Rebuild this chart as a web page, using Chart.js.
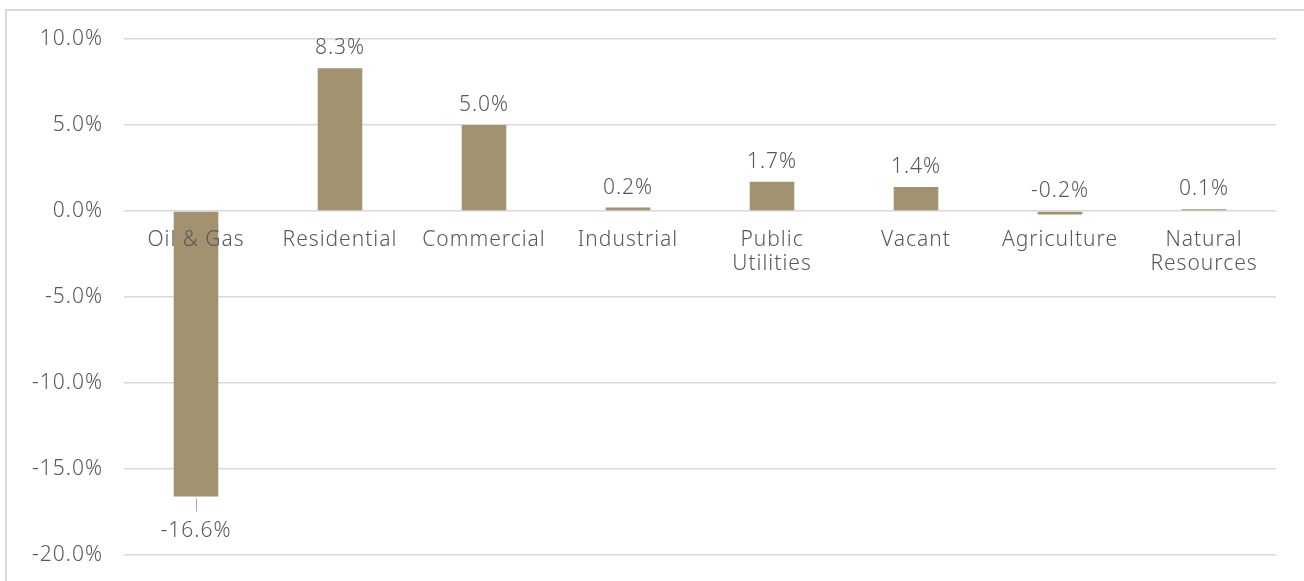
<!doctype html>
<html>

<head>
    <title>Change by Property Class</title>
    <script src="https://cdn.jsdelivr.net/npm/chart.js@4/dist/chart.umd.min.js"></script>
    <style>
    html, body {
        margin: 0;
        padding: 0;
        background: #ffffff;
    }
    #wrap {
        width: 1304px;
        height: 581px;
    }
    </style>
</head>

<body>
    <div id="wrap">
        <canvas id="canvas"></canvas>
    </div>
    <script>
    var categories = ['Oil & Gas', 'Residential', 'Commercial', 'Industrial', ['Public', 'Utilities'], 'Vacant', 'Agriculture', ['Natural', 'Resources']];
    var changePct = [-16.6, 8.3, 5.0, 0.2, 1.7, 1.4, -0.2, 0.1];
    var yTicks = [-20, -15, -10, -5, 0, 5, 10];

    var textColor = '#595959';
    var gridColor = '#d9d9d9';
    var barColor = '#a2926f';
    var fontFamily = '"Noto Sans", sans-serif';

    // outer frame of the chart box (only top and left edges fall inside the canvas)
    // also widens letter spacing for every text drawn afterwards
    var frame = {
        id: 'frame',
        beforeDraw: function(chart) {
            var ctx = chart.ctx;
            ctx.letterSpacing = '1px';
            ctx.save();
            ctx.strokeStyle = gridColor;
            ctx.lineWidth = 2;
            ctx.beginPath();
            ctx.moveTo(6, chart.height + 5);
            ctx.lineTo(6, 10);
            ctx.lineTo(chart.width + 5, 10);
            ctx.stroke();
            ctx.restore();
        }
    };

    // value labels above bars; the big negative bar gets its label below with a short leader
    var valueLabels = {
        id: 'valueLabels',
        afterDatasetsDraw: function(chart) {
            var ctx = chart.ctx;
            var meta = chart.getDatasetMeta(0);
            var zero = chart.scales.y.getPixelForValue(0);
            ctx.save();
            ctx.font = '300 21px ' + fontFamily;
            ctx.letterSpacing = '1px';
            ctx.fillStyle = textColor;
            ctx.textAlign = 'center';
            ctx.textBaseline = 'middle';
            meta.data.forEach(function(bar, i) {
                var v = changePct[i];
                var text = v.toFixed(1) + '%';
                if (v < -1) {
                    var bottom = bar.y;
                    ctx.strokeStyle = '#a6a6a6';
                    ctx.lineWidth = 1;
                    ctx.beginPath();
                    ctx.moveTo(Math.round(bar.x) + 0.5, bottom + 2);
                    ctx.lineTo(Math.round(bar.x) + 0.5, bottom + 15);
                    ctx.stroke();
                    ctx.fillText(text, bar.x, bottom + 34);
                } else {
                    var top = Math.min(bar.y, zero);
                    ctx.fillText(text, bar.x, top - 20);
                }
            });
            ctx.restore();
        }
    };

    var config = {
        type: 'bar',
        data: {
            labels: categories,
            datasets: [{
                label: 'Change',
                data: changePct,
                backgroundColor: barColor,
                borderWidth: 0,
                categoryPercentage: 1,
                barPercentage: 0.31
            }]
        },
        options: {
            responsive: true,
            maintainAspectRatio: false,
            animation: false,
            layout: {
                padding: { left: 0, right: 28, top: 39, bottom: 26 }
            },
            plugins: {
                legend: { display: false },
                title: { display: false },
                tooltip: { enabled: false }
            },
            scales: {
                x: {
                    position: { y: 0 },
                    afterFit: function(scale) {
                        scale.height = 0;
                    },
                    grid: { display: false, drawTicks: false },
                    border: { display: false },
                    ticks: {
                        z: 1,
                        color: textColor,
                        padding: 17,
                        maxRotation: 0,
                        autoSkip: false,
                        font: { family: fontFamily, size: 21, weight: 300, lineHeight: 1.15 }
                    }
                },
                y: {
                    min: -20,
                    max: 10,
                    afterBuildTicks: function(scale) {
                        scale.ticks = yTicks.map(function(v) { return { value: v }; });
                    },
                    afterFit: function(scale) {
                        scale.width = 124;
                    },
                    // invisible tick marks give the gap between labels and plot
                    grid: { color: gridColor, lineWidth: 1.5, drawTicks: true, tickLength: 21, tickColor: 'rgba(0,0,0,0)' },
                    border: { display: false },
                    ticks: {
                        color: textColor,
                        padding: 0,
                        font: { family: fontFamily, size: 21, weight: 300 },
                        callback: function(v) { return v.toFixed(1) + '%'; }
                    }
                }
            }
        },
        plugins: [frame, valueLabels]
    };

    window.onload = function() {
        window.myBar = new Chart(document.getElementById('canvas'), config);
    };
    </script>
</body>

</html>
